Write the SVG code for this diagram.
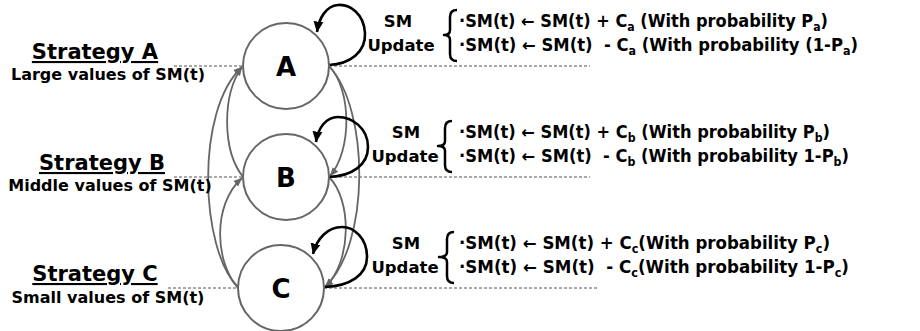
<svg xmlns="http://www.w3.org/2000/svg" width="920" height="331" viewBox="0 0 920 331">
  <style>
    text { font-family: "DejaVu Sans", Verdana, sans-serif; font-weight: bold; fill: #000; }
    .strat { font-size: 21px; text-decoration: underline; text-anchor: middle; }
    .desc { font-size: 16px; text-anchor: middle; }
    .eq { font-size: 17px; }
    .hdr { font-size: 16.5px; text-anchor: middle; }
    .sub { font-size: 11.5px; }
    .state { font-size: 26px; text-anchor: middle; }
    .node-circle { fill: #fff; stroke: #666; stroke-width: 2; }
    .guide { stroke: #555; stroke-width: 1; stroke-dasharray: 3 2; fill: none; }
    .edge { fill: none; stroke: #666; stroke-width: 1.8; }
    .loop { fill: none; stroke: #000; stroke-width: 2.6; }
    .brace { fill: none; stroke: #000; stroke-width: 2.5; stroke-linejoin: round; }
  </style>
  <defs>
    <marker id="arrGray" markerUnits="userSpaceOnUse" markerWidth="9" markerHeight="9" viewBox="0 0 10 10" refX="9.5" refY="5" orient="auto">
      <path d="M0,1 L10,5 L0,9 z" fill="#666"/>
    </marker>
    <marker id="arrBlack" markerUnits="userSpaceOnUse" markerWidth="11" markerHeight="11" viewBox="0 0 10 10" refX="9.5" refY="5" orient="auto">
      <path d="M0,0.5 L10,5 L0,9.5 z" fill="#000"/>
    </marker>
  </defs>

  <!-- dashed level guides -->
  <g id="guides">
    <line class="guide" x1="174" y1="66" x2="243" y2="66"/>
    <line class="guide" x1="329" y1="66" x2="590" y2="66"/>
    <line class="guide" x1="174" y1="177" x2="243" y2="177"/>
    <line class="guide" x1="329" y1="177" x2="590" y2="177"/>
    <line class="guide" x1="168" y1="288" x2="238" y2="288"/>
    <line class="guide" x1="324" y1="288" x2="598" y2="288"/>
  </g>

  <!-- transitions between strategies and self-loops -->
  <g id="connectors">
    <!-- left side: upward transitions -->
    <path class="edge" d="M238,287 C200,250 195,110 242,67" marker-end="url(#arrGray)"/>
    <path class="edge" d="M243,177 C222,150 222,95 242,67" marker-end="url(#arrGray)"/>
    <path class="edge" d="M238,288 C215,262 212,205 242,178" marker-end="url(#arrGray)"/>
    <!-- right side: downward transitions -->
    <path class="edge" d="M329,66 C352,90 352,150 330,176" marker-end="url(#arrGray)"/>
    <path class="edge" d="M329,66 C370,110 370,245 325,287" marker-end="url(#arrGray)"/>
    <path class="edge" d="M329,177 C352,200 352,262 325,287" marker-end="url(#arrGray)"/>
    <!-- self-loops (SM update) -->
    <path class="loop" d="M329,65 C350,64 366,52 365,33 C364,14 350,4 338,5 C326,6 319,18 317,32" marker-end="url(#arrBlack)"/>
    <path class="loop" d="M329,177 C352,176 368,165 368,147 C368,128 352,117 338,117 C326,117 318,128 316,142" marker-end="url(#arrBlack)"/>
    <path class="loop" d="M325,287 C350,286 367,275 367,257 C367,238 354,227 342,227 C328,227 317,238 313,254" marker-end="url(#arrBlack)"/>
  </g>

  <!-- strategy nodes -->
  <g id="node-A">
    <circle class="node-circle" cx="286" cy="66" r="43"/>
    <text class="state" x="286" y="76">A</text>
  </g>
  <g id="node-B">
    <circle class="node-circle" cx="286" cy="177" r="43"/>
    <text class="state" x="286" y="187">B</text>
  </g>
  <g id="node-C">
    <circle class="node-circle" cx="281" cy="288" r="43"/>
    <text class="state" x="281" y="298">C</text>
  </g>

  <!-- strategy labels -->
  <g id="label-A">
    <text class="strat" x="95" y="59">Strategy A</text>
    <text class="desc" x="108" y="80">Large values of SM(t)</text>
  </g>
  <g id="label-B">
    <text class="strat" x="102" y="170">Strategy B</text>
    <text class="desc" x="110" y="191">Middle values of SM(t)</text>
  </g>
  <g id="label-C">
    <text class="strat" x="95" y="281">Strategy C</text>
    <text class="desc" x="108" y="303">Small values of SM(t)</text>
  </g>

  <!-- SM update rules -->
  <g id="update-A">
    <text class="hdr" x="398" y="27">SM</text>
    <text class="hdr" x="401" y="51">Update</text>
    <path class="brace" d="M457,10 Q450,10 450,17 L450,30 Q450,35 444,35 Q450,35 450,40 L450,54 Q450,61 457,61"/>
    <text class="eq" x="459" y="27" textLength="369" lengthAdjust="spacingAndGlyphs" xml:space="preserve">·SM(t) ← SM(t) + C<tspan class="sub" dy="4">a</tspan><tspan dy="-4"> (With probability P</tspan><tspan class="sub" dy="4">a</tspan><tspan dy="-4">)</tspan></text>
    <text class="eq" x="459" y="51" textLength="399" lengthAdjust="spacingAndGlyphs" xml:space="preserve">·SM(t) ← SM(t)  - C<tspan class="sub" dy="4">a</tspan><tspan dy="-4"> (With probability (1-P</tspan><tspan class="sub" dy="4">a</tspan><tspan dy="-4">)</tspan></text>
  </g>
  <g id="update-B">
    <text class="hdr" x="406" y="138">SM</text>
    <text class="hdr" x="405" y="162">Update</text>
    <path class="brace" d="M452,121 Q445,121 445,128 L445,141 Q445,146 438,146 Q445,146 445,151 L445,165 Q445,172 452,172"/>
    <text class="eq" x="459" y="138" textLength="371" lengthAdjust="spacingAndGlyphs" xml:space="preserve">·SM(t) ← SM(t) + C<tspan class="sub" dy="4">b</tspan><tspan dy="-4"> (With probability P</tspan><tspan class="sub" dy="4">b</tspan><tspan dy="-4">)</tspan></text>
    <text class="eq" x="459" y="162" textLength="390" lengthAdjust="spacingAndGlyphs" xml:space="preserve">·SM(t) ← SM(t)  - C<tspan class="sub" dy="4">b</tspan><tspan dy="-4"> (With probability 1-P</tspan><tspan class="sub" dy="4">b</tspan><tspan dy="-4">)</tspan></text>
  </g>
  <g id="update-C">
    <text class="hdr" x="406" y="249">SM</text>
    <text class="hdr" x="405" y="273">Update</text>
    <path class="brace" d="M454,232 Q447,232 447,239 L447,252 Q447,257 439,257 Q447,257 447,262 L447,276 Q447,283 454,283"/>
    <text class="eq" x="459" y="249" textLength="371" lengthAdjust="spacingAndGlyphs" xml:space="preserve">·SM(t) ← SM(t) + C<tspan class="sub" dy="4">c</tspan><tspan dy="-4">(With probability P</tspan><tspan class="sub" dy="4">c</tspan><tspan dy="-4">)</tspan></text>
    <text class="eq" x="459" y="273" textLength="390" lengthAdjust="spacingAndGlyphs" xml:space="preserve">·SM(t) ← SM(t)  - C<tspan class="sub" dy="4">c</tspan><tspan dy="-4">(With probability 1-P</tspan><tspan class="sub" dy="4">c</tspan><tspan dy="-4">)</tspan></text>
  </g>
</svg>
